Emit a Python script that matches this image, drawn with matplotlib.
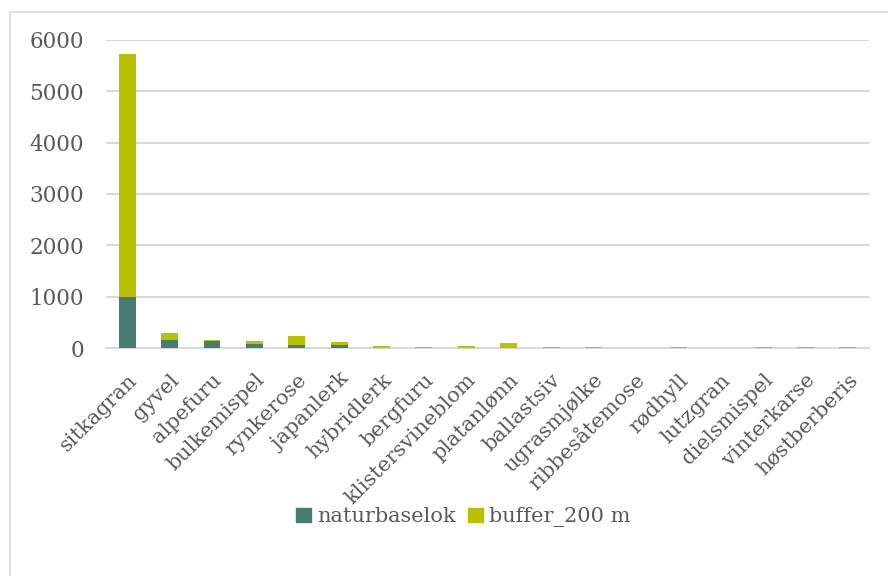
import matplotlib.pyplot as plt
from matplotlib.patches import Patch
from matplotlib.lines import Line2D

# arter og antall funn
arter = ['sitkagran', 'gyvel', 'alpefuru', 'bulkemispel', 'rynkerose', 'japanlerk',
         'hybridlerk', 'bergfuru', 'klistersvineblom', 'platanlønn', 'ballastsiv',
         'ugrasmjølke', 'ribbesåtemose', 'rødhyll', 'lutzgran', 'dielsmispel',
         'vinterkarse', 'høstberberis']
naturbaselok = [1000, 148, 136, 70, 51, 50, 5, 3, 2, 5, 1, 1, 0, 2, 0, 1, 2, 2]
buffer_200 = [4730, 144, 26, 66, 189, 67, 40, 22, 43, 100, 12, 12, 0, 18, 0, 10, 18, 18]

teal = '#467c72'
oliven = '#b9c200'
grå = '#595959'

plt.rcParams['font.family'] = ['DejaVu Serif']
fig = plt.figure(figsize=(8.88, 5.76), dpi=100)
ax = fig.add_axes([0.1194, 0.3958, 0.8592, 0.5348])

x = list(range(len(arter)))
ax.bar(x, naturbaselok, width=0.4, color=teal, zorder=3)
ax.bar(x, buffer_200, width=0.4, bottom=naturbaselok, color=oliven, zorder=3)

ax.set_xlim(-0.5, len(arter) - 0.5)
ax.set_ylim(0, 6000)
ax.set_yticks(range(0, 6001, 1000))
ax.yaxis.grid(True, color='#d9d9d9', linewidth=1.5, zorder=0)
for s in ['top', 'right', 'left']:
    ax.spines[s].set_visible(False)
ax.spines['bottom'].set_color('#d9d9d9')
ax.spines['bottom'].set_linewidth(1.5)
ax.tick_params(axis='y', length=0, pad=16, labelsize=15.5, labelcolor=grå)
ax.tick_params(axis='x', length=0, pad=16, labelsize=15, labelcolor=grå)
ax.set_xticks(x)
ax.set_xticklabels(arter, rotation=45, ha='right', rotation_mode='anchor')

handles = [Patch(color=teal, label='naturbaselok'),
           Patch(color=oliven, label='buffer_200 m')]
fig.legend(handles=handles, loc='center', bbox_to_anchor=(0.522, 0.102), ncol=2,
           frameon=False, fontsize=15, labelcolor=grå, handlelength=0.7,
           handleheight=0.7, handletextpad=0.3, columnspacing=0.6)

# ramme rundt diagrammet
fig.add_artist(Line2D([10 / 888, 1], [1 - 12 / 576, 1 - 12 / 576], color='#d9d9d9', linewidth=1.2))
fig.add_artist(Line2D([10 / 888, 10 / 888], [0, 1 - 12 / 576], color='#d9d9d9', linewidth=1.2))

fig.savefig('out.png', dpi=100)
